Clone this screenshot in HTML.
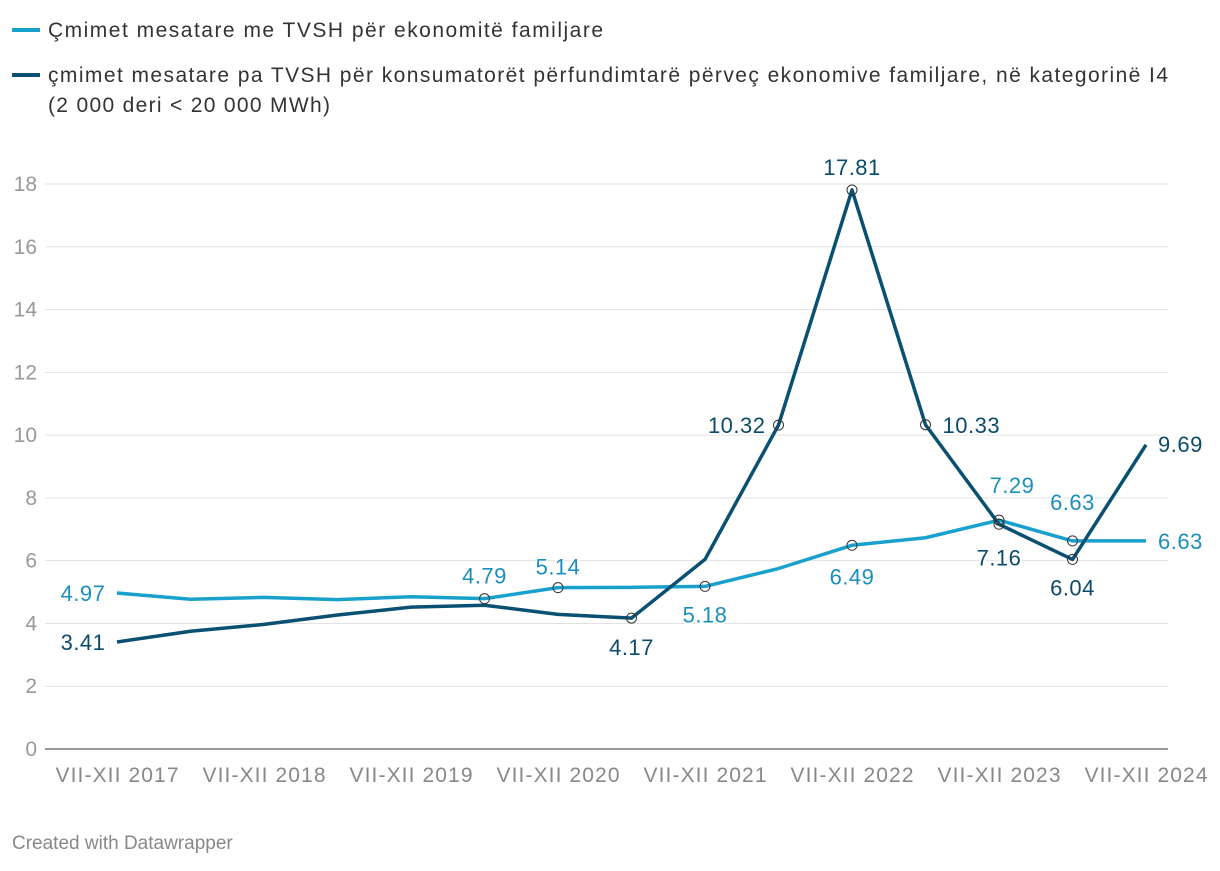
<!DOCTYPE html>
<html><head><meta charset="utf-8"><style>
body{margin:0;background:#fff;font-family:"Liberation Sans",sans-serif;}
svg text{font-family:"Liberation Sans",sans-serif;}
</style></head><body>
<svg id="c" width="1220" height="866">
<g>
<g>
<line x1="12" y1="30" x2="40" y2="30" stroke="#18a1cd" stroke-width="4"/>
<text x="48" y="37" font-size="21" fill="#333" textLength="555" lengthAdjust="spacing">Çmimet mesatare me TVSH për ekonomitë familjare</text></g>
<g>
<line x1="12" y1="75" x2="40" y2="75" stroke="#0a5072" stroke-width="4"/>
<text x="48" y="82" font-size="21" fill="#333" textLength="1120" lengthAdjust="spacing">çmimet mesatare pa TVSH për konsumatorët përfundimtarë përveç ekonomive familjare, në kategorinë I4</text>
<text x="48" y="112" font-size="21" fill="#333" textLength="282" lengthAdjust="spacing">(2 000 deri &lt; 20 000 MWh)</text></g>
</g>
<g id="grid"></g>
<g id="xax"></g>
<g id="lines"></g>
<g id="lbls"></g>
<text x="12" y="849" font-size="19" fill="#888">Created with Datawrapper</text>
</svg>
<script>
const categories=["VII-XII 2017","I-VI 2018","VII-XII 2018","I-VI 2019","VII-XII 2019","I-VI 2020","VII-XII 2020","I-VI 2021","VII-XII 2021","I-VI 2022","VII-XII 2022","I-VI 2023","VII-XII 2023","I-VI 2024","VII-XII 2024"];
const households=[4.97,4.77,4.83,4.76,4.85,4.79,5.14,5.15,5.18,5.75,6.49,6.73,7.29,6.63,6.63];
const consumers=[3.41,3.75,3.97,4.27,4.52,4.58,4.29,4.17,6.04,10.32,17.81,10.33,7.16,6.04,9.69];
const yTicks=[0,2,4,6,8,10,12,14,16,18];
const ns="http://www.w3.org/2000/svg";
const x=i=>117+i*(1146-117)/(categories.length-1);
const y=v=>749-v*(749-184)/18;
function mk(t,a,p){const e=document.createElementNS(ns,t);for(const k in a)e.setAttribute(k,a[k]);p.appendChild(e);return e;}
const grid=document.getElementById('grid'),xax=document.getElementById('xax'),L=document.getElementById('lines'),B=document.getElementById('lbls');
yTicks.forEach(v=>{
 const l=mk('line',{x1:45,x2:1168,y1:y(v),y2:y(v),stroke:v===0?'#333':'#e2e2e2','stroke-width':1},grid);
 
 
 const t=mk('text',{x:37,y:y(v)+7,'text-anchor':'end','font-size':21,fill:'#999'},grid);t.textContent=v;
 
 
});
categories.forEach((c,i)=>{if(i%2)return;
 const t=mk('text',{x:x(i),y:782,'text-anchor':'middle','font-size':21,fill:'#888',textLength:123,lengthAdjust:'spacing'},xax);t.textContent=c;
 
 
});
function line(d,col,name){
 const p=mk('path',{d:d.map((v,i)=>(i?'L':'M')+x(i)+','+y(v)).join(''),fill:'none',stroke:col,'stroke-width':3.5,'stroke-linejoin':'round'},L);
 
 
}
line(households,'#18a1cd','line-households');
line(consumers,'#0a5072','line-consumers');
// label specs: [index, dx, dy, anchor]
const lh=[[0,-34,8,'middle'],[5,0,-15,'middle'],[6,0,-13,'middle'],[8,0,36,'middle'],[10,0,39,'middle'],[12,13,-27,'middle'],[13,0,-31,'middle'],[14,12,8,'start']];
const lc=[[0,-34,8,'middle'],[7,0,37,'middle'],[9,-13,8,'end'],[10,0,-15,'middle'],[11,17,8,'start'],[12,0,41,'middle'],[13,0,36,'middle'],[14,12,7,'start']];
function labels(d,spec,col,circ,name){
 spec.forEach(([i,dx,dy,a])=>{
  if(circ.includes(i)){const c=mk('circle',{cx:x(i),cy:y(d[i]),r:5,fill:'none',stroke:'#333','stroke-width':1},B);
   
   }
  const t=mk('text',{x:x(i)+dx,y:y(d[i])+dy,'text-anchor':a,'font-size':22,'letter-spacing':0.5,fill:col,stroke:'#fff','stroke-width':4,'paint-order':'stroke'},B);
  t.textContent=d[i].toFixed(2);
  
  
 });
}
labels(households,lh,'#1b8fbc',[5,6,8,10,12,13],'households');
labels(consumers,lc,'#0b4b6a',[7,9,10,11,12,13],'consumers');
</script>
</body></html>
